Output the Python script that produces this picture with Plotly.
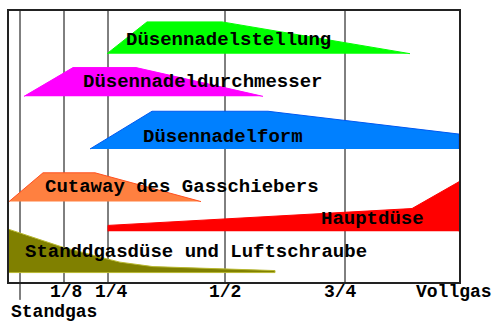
import plotly.graph_objects as go

# x: position along throttle travel (axis units, frame 0..450), y: height units (0..273)
tick_labels = ["Standgas", "1/8", "1/4", "1/2", "3/4", "Vollgas"]
tick_pos = [11, 55, 99, 216, 336, 450]
label_pos = [1, 57, 102, 216, 331, 445]

band_names = ["Düsennadelstellung", "Düsennadeldurchmesser", "Düsennadelform",
              "Cutaway des Gasschiebers", "Hauptdüse", "Standdgasdüse und Luftschraube"]

green_x = [98, 138, 213, 401]
green_y = [230, 262, 262, 230]

magenta_x = [15, 64, 127, 254]
magenta_y = [187, 216, 216, 187]

blue_x = [81, 143, 259, 450, 450]
blue_y = [134, 172, 172, 149, 134]

orange_x = [0, 34, 86, 192]
orange_y = [81, 110, 110, 81]

red_x = [99, 99, 403, 450, 450]
red_y = [51, 57, 74, 101, 51]

olive_x = [0, 54, 99, 111, 144, 221, 266, 266, 0]
olive_y = [53, 35, 23, 20, 15.5, 13, 11.5, 9.5, 9.5]

label_x = [219, 193.5, 213.5, 172.5, 363.5, 187]
label_y = [244, 201, 146, 96, 63, 30]

fills = ["#00FF00", "#FF00FF", "#0080FF", "#FF8040", "#FF0000", "#808000"]
edges = ["#00FF00", "#FF00FF", "#0058F0", "#FF5020", "#FF0000", "#B8B830"]

polys = [(green_x, green_y), (magenta_x, magenta_y), (blue_x, blue_y),
         (orange_x, orange_y), (red_x, red_y), (olive_x, olive_y)]

PLOT_H = 273.0

fig = go.Figure()
for (px, py), fc, ec, name in zip(polys, fills, edges, band_names):
    fig.add_trace(go.Scatter(x=px, y=py, fill="toself", fillcolor=fc, mode="lines",
                             line=dict(color=ec, width=1), name=name, hoverinfo="name"))

FONT = "Liberation Mono, Courier New, monospace"

for name, lx, ly in zip(band_names, label_x, label_y):
    fig.add_annotation(x=lx, y=ly, xref="x", yref="y", text=name, showarrow=False,
                       borderpad=0,
                       font=dict(family=FONT, size=19, color="black", weight="bold"))

# vertical lines
for i, xp in enumerate(tick_pos[:-1]):
    fig.add_shape(type="line", xref="x", yref="paper", x0=xp, x1=xp,
                  y0=(-18 / PLOT_H if i == 0 else 0), y1=1, layer="below",
                  line=dict(color="black", width=1))

# tick labels
for i, (lab, xp) in enumerate(zip(tick_labels, label_pos)):
    if i == 0:
        fig.add_annotation(x=xp, y=-30 / PLOT_H, xref="x", yref="paper", text=lab,
                           showarrow=False, xanchor="left", yanchor="middle", borderpad=0,
                           font=dict(family=FONT, size=18, color="black", weight="bold"))
    else:
        fig.add_annotation(x=xp, y=-10 / PLOT_H, xref="x", yref="paper", text=lab,
                           showarrow=False, yanchor="middle", borderpad=0,
                           font=dict(family=FONT, size=18, color="black", weight="bold"))

fig.update_xaxes(range=[0, 450], showgrid=False, zeroline=False, showticklabels=False,
                 ticks="", showline=True, mirror=True, linecolor="#222", linewidth=1.5)
fig.update_yaxes(range=[0, 273], showgrid=False, zeroline=False, showticklabels=False,
                 ticks="", showline=True, mirror=True, linecolor="#222", linewidth=1.5)
fig.update_layout(width=500, height=322, margin=dict(l=9, r=41, t=9, b=40),
                  plot_bgcolor="white", paper_bgcolor="white", showlegend=False)

fig.write_html("out.html")
